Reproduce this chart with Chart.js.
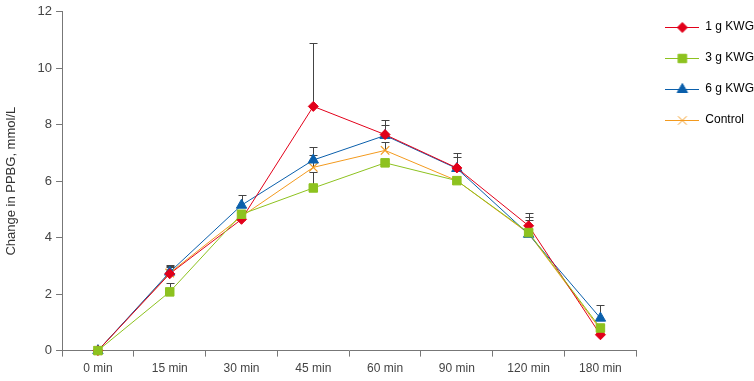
<!DOCTYPE html>
<html>
<head>
<meta charset="utf-8">
<script src="https://cdn.jsdelivr.net/npm/chart.js@4"></script>
<style>
  html, body { margin: 0; padding: 0; background: #fff; }
  #wrap { width: 754px; height: 381px; }
</style>
</head>
<body>
<div id="wrap"><canvas id="myChart" width="754" height="381"></canvas></div>
<script>
const labels = ['0 min', '15 min', '30 min', '45 min', '60 min', '90 min', '120 min', '180 min'];

const kwg1 = [0, 2.72, 4.65, 8.65, 7.65, 6.47, 4.42, 0.56];
const kwg3 = [0, 2.08, 4.83, 5.76, 6.65, 6.02, 4.18, 0.80];
const kwg6 = [0, 2.78, 5.15, 6.75, 7.62, 6.45, 4.12, 1.15];
const ctrl = [0, 2.75, 4.75, 6.49, 7.09, 6.02, 4.15, 0.75];

// upper error (only the upper half is drawn)
const err1 = [0, 0.31, 0, 2.25, 0.5, 0.52, 0.45, 0];
const err3 = [0, 0.32, 0, 0.55, 0, 0, 0, 0];
const err6 = [0, 0.22, 0.35, 0.47, 0.38, 0.42, 0.62, 0.48];
const errC = [0, 0.2, 0, 0.44, 0.3, 0, 0.47, 0];

const yTicks = [0, 2, 4, 6, 8, 10, 12];

const FONT = "'Liberation Sans', Arial, sans-serif";

function legendIcon(color, style, radius) {
    const c = document.createElement('canvas');
    c.width = 34;
    c.height = 14;
    const g = c.getContext('2d');
    g.strokeStyle = color;
    g.lineWidth = 1;
    g.beginPath();
    g.moveTo(0, 7.5);
    g.lineTo(34, 7.5);
    g.stroke();
    g.fillStyle = color;
    g.strokeStyle = color;
    Chart.helpers.drawPoint(g, {pointStyle: style, radius: radius, rotation: 0, borderWidth: style === 'crossRot' ? 1.2 : 1}, 17, 7.5);
    return c;
}

// order: lower number is drawn on top (green squares sit over the rest)
const series = [
    {label: '1 g KWG', data: kwg1, err: err1, color: '#e2001a', style: 'rectRot', r: 5, order: 1},
    {label: '3 g KWG', data: kwg3, err: err3, color: '#8dc21f', style: 'rect', r: 6, order: 0},
    {label: '6 g KWG', data: kwg6, err: err6, color: '#0a5fab', style: 'triangle', r: 6, order: 2},
    {label: 'Control', data: ctrl, err: errC, color: '#f39a1e', style: 'crossRot', r: 6, order: 3},
];

const errorBars = {
    id: 'errorBars',
    afterLayout(chart) {
        // nudge the legend block to where it sits in the original
        const lg = chart.legend;
        lg.left += 10;
        lg.right += 10;
        lg.top -= 4;
        lg.bottom -= 4;
    },
    beforeDatasetsDraw(chart) {
        const ctx = chart.ctx;
        const x = chart.scales.x;
        const y = chart.scales.y;
        ctx.save();
        ctx.strokeStyle = '#444';
        ctx.lineWidth = 1;
        series.forEach(s => {
            s.data.forEach((v, i) => {
                const e = s.err[i];
                if (!e) return;
                const px = Math.round(x.getPixelForValue(i)) + 0.5;
                const y0 = y.getPixelForValue(v);
                const y1 = Math.round(y.getPixelForValue(v + e)) + 0.5;
                ctx.beginPath();
                ctx.moveTo(px, y0);
                ctx.lineTo(px, y1);
                ctx.moveTo(px - 4, y1);
                ctx.lineTo(px + 4, y1);
                ctx.stroke();
            });
        });
        ctx.restore();
    }
};

const ctx = document.getElementById('myChart').getContext('2d');

new Chart(ctx, {
    type: 'line',
    data: {
        labels: labels,
        datasets: series.map(s => ({
            label: s.label,
            data: s.data,
            order: s.order,
            clip: false,
            borderColor: s.color,
            backgroundColor: s.color,
            borderWidth: 1,
            pointStyle: s.style,
            pointRadius: s.r,
            pointBorderWidth: s.style === 'crossRot' ? 1.2 : 1,
            pointBackgroundColor: s.color,
            pointBorderColor: s.color,
            tension: 0,
            fill: false,
        }))
    },
    options: {
        responsive: false,
        animation: false,
        layout: {
            padding: {top: 6, right: 0, bottom: 0, left: 4}
        },
        plugins: {
            legend: {
                position: 'right',
                align: 'start',
                labels: {
                    usePointStyle: true,
                    pointStyleWidth: 34,
                    padding: 19,
                    color: '#333',
                    font: {family: FONT, size: 12},
                    generateLabels(chart) {
                        return series.map((s, i) => ({
                            text: s.label,
                            pointStyle: legendIcon(s.color, s.style, s.r),
                            fillStyle: s.color,
                            strokeStyle: s.color,
                            lineWidth: 0,
                            datasetIndex: i,
                            hidden: false,
                        }));
                    }
                }
            },
            tooltip: {enabled: false}
        },
        scales: {
            x: {
                offset: true,
                grid: {
                    offset: true,
                    drawOnChartArea: false,
                    drawTicks: true,
                    tickLength: 6,
                    color: '#777',
                },
                border: {display: true, color: '#777', width: 1},
                ticks: {
                    color: '#444',
                    font: {family: FONT, size: 12},
                    padding: 5,
                    maxRotation: 0,
                }
            },
            y: {
                min: 0,
                max: 12,
                afterBuildTicks(axis) {
                    axis.ticks = yTicks.map(v => ({value: v}));
                },
                grid: {
                    drawOnChartArea: false,
                    drawTicks: true,
                    tickLength: 6,
                    color: '#777',
                },
                border: {display: true, color: '#777', width: 1},
                ticks: {
                    color: '#444',
                    font: {family: FONT, size: 13},
                    padding: 4,
                },
                title: {
                    display: true,
                    text: 'Change in PPBG, mmol/L',
                    color: '#333',
                    font: {family: FONT, size: 13},
                    padding: {top: 0, bottom: 14},
                }
            }
        }
    },
    plugins: [errorBars]
});
</script>
</body>
</html>
